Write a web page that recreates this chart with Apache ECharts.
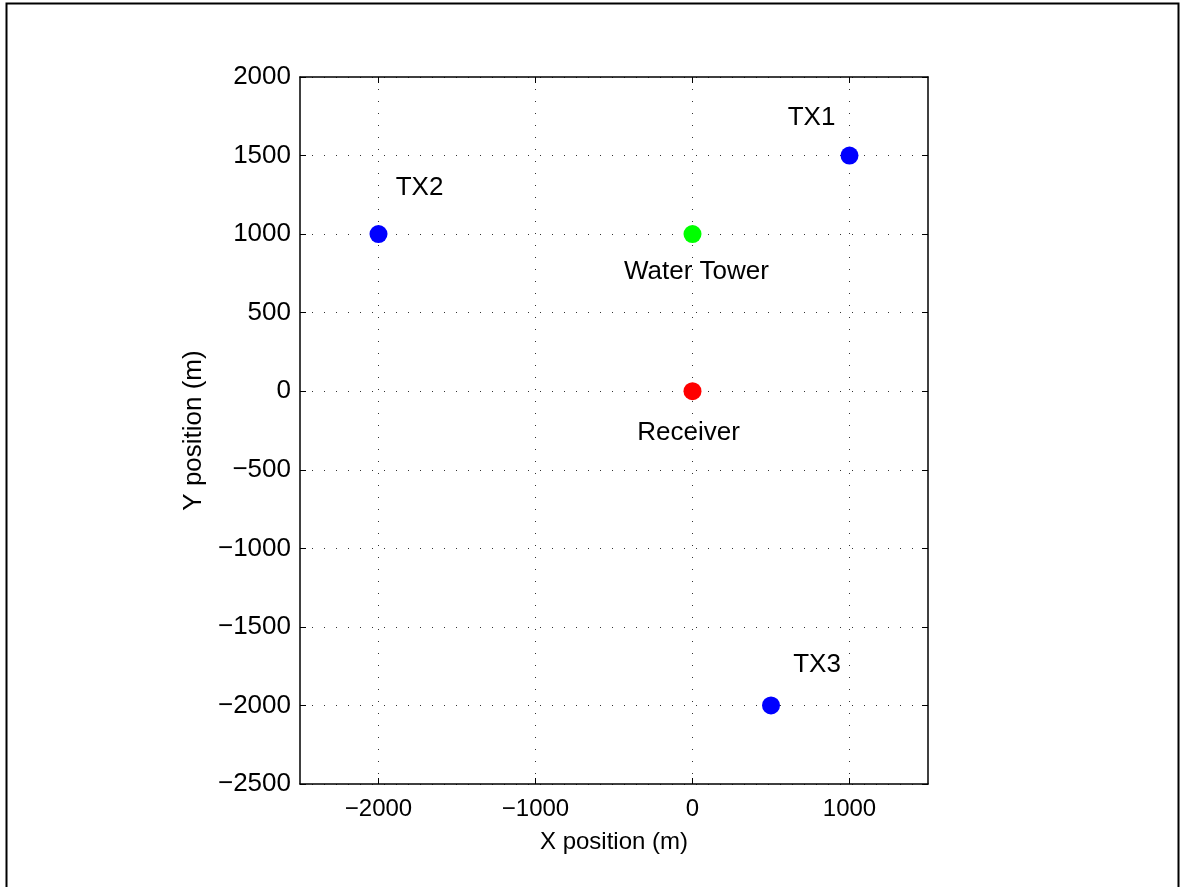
<!DOCTYPE html>
<html lang="en">
<head>
    <meta charset="UTF-8">
    <title>Positions</title>
    <script src="https://cdn.jsdelivr.net/npm/echarts@6/dist/echarts.min.js"></script>
    <style type="text/css">
        html, body {
            margin: 0;
            padding: 0;
            background: #fff;
        }
        #main {
            width: 1182px;
            height: 887px;
        }
    </style>
</head>
<body>
<div id="main"></div>
<script type="text/javascript">
    // point data
    var names = ['TX1', 'TX2', 'TX3', 'Water Tower', 'Receiver'];
    var xPos = [1000, -2000, 500, 0, 0];
    var yPos = [1500, 1000, -2000, 1000, 0];
    var colors = ['#0000ff', '#0000ff', '#0000ff', '#00ff00', '#ff0000'];

    // axis ranges and ticks
    var xRange = [-2500, 1500];
    var yRange = [-2500, 2000];
    var xTicks = [-2000, -1000, 0, 1000];

    // where each text sits next to its marker (px)
    var labelOffsets = [[-38, -38], [41, -46], [46, -41], [4, 38], [-4, 42]];

    var font = 'Liberation Sans, Arial, Helvetica, sans-serif';

    var pts = [];
    for (var i = 0; i < names.length; i++) {
        pts.push({
            name: names[i],
            value: [xPos[i], yPos[i]],
            itemStyle: {color: colors[i], opacity: 1},
            label: {offset: labelOffsets[i]}
        });
    }

    var gridLine = {show: true, lineStyle: {color: '#333', width: 1, type: [1, 11]}};
    var minus = function (v) { return String(v).replace('-', '\u2212'); };

    function plainAxis(pos, range, step, ticks, extra) {
        var ax = {
            type: 'value',
            position: pos,
            min: range[0],
            max: range[1],
            interval: step,
            axisLine: {show: true, onZero: false, lineStyle: {color: '#000', width: 1.5}},
            axisTick: {show: true, inside: true, length: 6, lineStyle: {color: '#000'}},
            axisLabel: {show: false},
            splitLine: {show: false}
        };
        if (ticks) ax.axisTick.customValues = ticks;
        for (var k in extra) ax[k] = extra[k];
        return ax;
    }

    var myChart = echarts.init(document.getElementById('main'), null, {renderer: 'canvas'});
    var option = {
        backgroundColor: '#fff',
        animation: false,
        grid: {left: 300, right: 254, top: 77, bottom: 103},
        xAxis: [
            plainAxis('bottom', xRange, 500, xTicks, {
                name: 'X position (m)',
                nameLocation: 'middle',
                nameGap: 46,
                nameTextStyle: {color: '#000', fontSize: 24, fontFamily: font},
                axisLabel: {show: true, color: '#000', fontSize: 24, fontFamily: font, margin: 13,
                    customValues: xTicks, formatter: minus},
                splitLine: gridLine
            }),
            plainAxis('top', xRange, 500, xTicks, {})
        ],
        yAxis: [
            plainAxis('left', yRange, 500, null, {
                name: 'Y position (m)',
                nameLocation: 'middle',
                nameGap: 89,
                nameTextStyle: {color: '#000', fontSize: 26, fontFamily: font},
                axisLabel: {show: true, color: '#000', fontSize: 26, fontFamily: font, margin: 9,
                    formatter: minus},
                splitLine: gridLine
            }),
            plainAxis('right', yRange, 500, null, {})
        ],
        series: [
            {
                type: 'scatter',
                xAxisIndex: 0,
                yAxisIndex: 0,
                symbol: 'circle',
                symbolSize: 18,
                data: pts,
                label: {
                    show: true,
                    position: 'inside',
                    formatter: '{b}',
                    color: '#000',
                    fontSize: 26,
                    fontFamily: font
                }
            }
        ],
        graphic: [
            {
                type: 'rect',
                left: 4,
                top: 1,
                shape: {width: 1172, height: 900},
                style: {fill: null, stroke: '#000', lineWidth: 2},
                silent: true
            }
        ]
    };
    myChart.setOption(option);
</script>
</body>
</html>
